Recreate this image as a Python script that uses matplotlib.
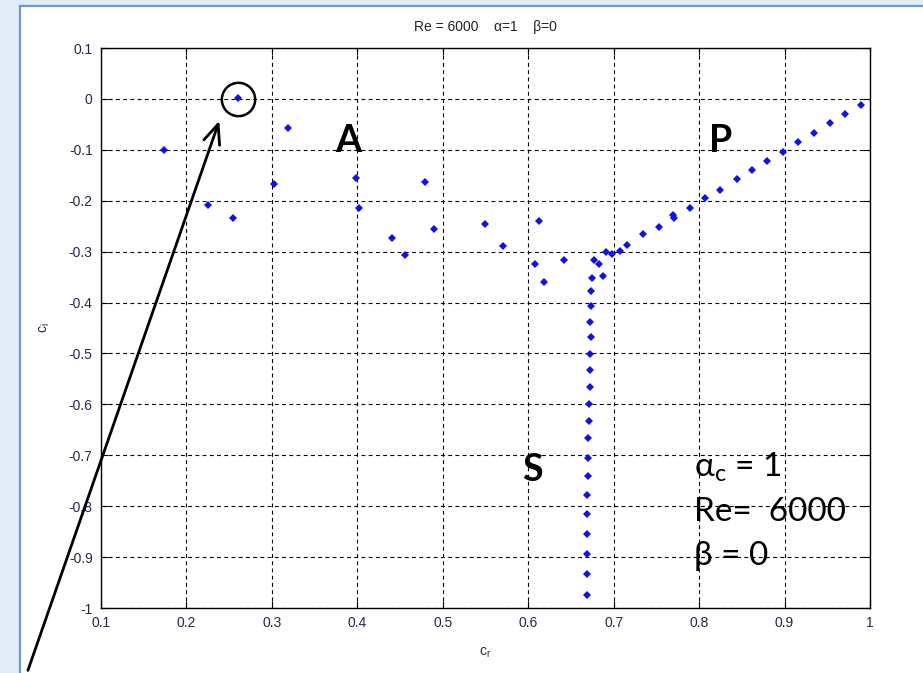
import matplotlib.pyplot as plt
from matplotlib.patches import Rectangle

# eigenvalue spectrum (c_r, c_i)
cr = [0.174, 0.260, 0.319, 0.225, 0.254, 0.302, 0.399, 0.402, 0.440,
      0.456, 0.479, 0.490, 0.549, 0.570, 0.613, 0.608, 0.618, 0.642,
      0.677, 0.683, 0.687, 0.675, 0.674, 0.674, 0.672,
      0.691, 0.698, 0.707, 0.716, 0.734, 0.753, 0.770, 0.771, 0.789,
      0.807, 0.825, 0.844, 0.862, 0.880, 0.898, 0.916, 0.935, 0.953,
      0.971, 0.989,
      0.673, 0.672, 0.672, 0.672, 0.671, 0.671, 0.670, 0.670, 0.670,
      0.669, 0.669, 0.669, 0.669, 0.669, 0.669]
ci = [-0.101, 0.002, -0.058, -0.209, -0.233, -0.167, -0.156, -0.214, -0.273,
      -0.307, -0.164, -0.256, -0.246, -0.288, -0.240, -0.325, -0.360, -0.316,
      -0.317, -0.325, -0.347, -0.351, -0.378, -0.407, -0.439,
      -0.301, -0.305, -0.299, -0.286, -0.266, -0.252, -0.229, -0.233, -0.214,
      -0.194, -0.178, -0.157, -0.140, -0.121, -0.104, -0.085, -0.066, -0.047,
      -0.029, -0.011,
      -0.468, -0.501, -0.533, -0.565, -0.599, -0.632, -0.666, -0.706, -0.741,
      -0.778, -0.816, -0.854, -0.893, -0.933, -0.974]

xticks = [0.1, 0.2, 0.3, 0.4, 0.5, 0.6, 0.7, 0.8, 0.9, 1]
yticks = [0.1, 0, -0.1, -0.2, -0.3, -0.4, -0.5, -0.6, -0.7, -0.8, -0.9, -1]
xtick_labels = ['0.1', '0.2', '0.3', '0.4', '0.5', '0.6', '0.7', '0.8', '0.9', '1']
ytick_labels = ['0.1', '0', '-0.1', '-0.2', '-0.3', '-0.4', '-0.5', '-0.6',
                '-0.7', '-0.8', '-0.9', '-1']

narrow = ['Liberation Sans Narrow', 'Liberation Sans']
calib = ['Lato', 'DejaVu Sans']
tick_col = '#2e2448'

fig = plt.figure(figsize=(9.23, 6.73), dpi=100)
fig.patch.set_facecolor('#e2ecf8')
fig.patches.append(Rectangle((19.5 / 923, -0.05), 1.1, 1 - 6 / 673 + 0.05,
                             transform=fig.transFigure, facecolor='white',
                             edgecolor='#6b9bd6', linewidth=1.6, zorder=-5))

ax = fig.add_axes([101 / 923, 1 - 608 / 673, 769 / 923, 560 / 673])
ax.set_zorder(2)
ax.set_facecolor('white')
ax.plot(cr, ci, 'D', color='#1010e8', markersize=4.0, markeredgewidth=0)

ax.set_xlim(0.1, 1)
ax.set_ylim(-1, 0.1)
ax.set_xticks(xticks)
ax.set_xticklabels(xtick_labels, family=narrow, fontsize=10, color=tick_col)
ax.set_yticks(yticks)
ax.set_yticklabels(ytick_labels, family=narrow, fontsize=10, color=tick_col)
ax.tick_params(direction='in', length=5, width=0.8, top=True, right=True, pad=6)
ax.grid(True, color='black', linestyle=(0, (3.5, 3)), linewidth=0.8)
for s in ax.spines.values():
    s.set_linewidth(1.0)

ax.set_title('Re = 6000    \u03b1=1    \u03b2=0', family=narrow, fontsize=10,
             color='#222222', pad=12)
ax.set_xlabel('c$_\\mathregular{r}$', family=narrow, fontsize=10, color=tick_col,
              labelpad=11)
ax.set_ylabel('c$_\\mathregular{i}$', family=narrow, fontsize=10, color=tick_col,
              labelpad=12)

# branch labels
ax.text(0.3896, -0.083, 'A', family=calib, fontweight='bold', fontsize=27,
        ha='center', va='center')
ax.text(0.8257, -0.083, 'P', family=calib, fontweight='bold', fontsize=27,
        ha='center', va='center')
ax.text(0.605, -0.729, 'S', family=calib, fontweight='bold', fontsize=27,
        ha='center', va='center')

# parameter box
ax.text(0.794, -0.724, '\u03b1$_\\mathregular{c}$ = 1', family=calib,
        fontsize=24, ha='left', va='center')
ax.text(0.794, -0.812, 'Re=  6000', family=calib, fontsize=24,
        ha='left', va='center')
ax.text(0.794, -0.898, '\u03b2 = 0', family=calib, fontsize=24,
        ha='left', va='center')

# circled mode and arrow
ax.plot([0.26], [0.0], 'o', markersize=24, markerfacecolor='none',
        markeredgecolor='black', markeredgewidth=1.8, clip_on=False)
ax.annotate('', xy=(0.2395, -0.038), xycoords='data',
            xytext=(27 / 923, 0.0), textcoords='figure fraction',
            arrowprops=dict(arrowstyle='->,head_length=1.4,head_width=0.6',
                            color='black', linewidth=2.0),
            annotation_clip=False)

fig.savefig('out.png', dpi=100, facecolor=fig.get_facecolor())
